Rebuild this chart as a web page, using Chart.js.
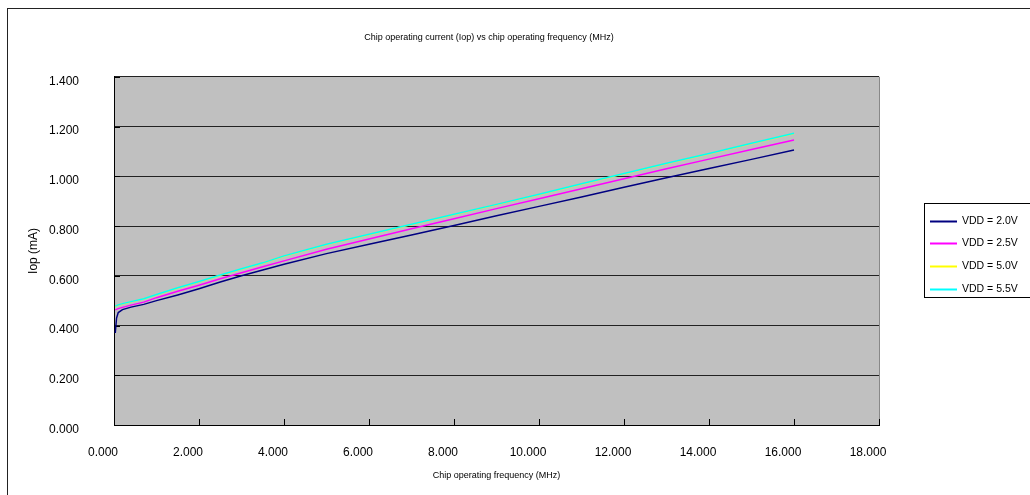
<!DOCTYPE html>
<html>
<head>
<meta charset="utf-8">
<title>Chip operating current vs frequency</title>
<script src="https://cdn.jsdelivr.net/npm/chart.js@4.4.0/dist/chart.umd.min.js"></script>
<style>
  html, body { margin: 0; padding: 0; background: #fff; overflow: hidden; }
  #wrap { position: relative; width: 1030px; height: 495px; }
  #frame { position: absolute; left: 7px; top: 8px; width: 1100px; height: 600px; border: 1px solid #222; box-sizing: border-box; }
  #chart { position: absolute; left: 0; top: 0; }
</style>
</head>
<body>
<div id="wrap">
  <div id="frame"></div>
  <canvas id="chart" width="1030" height="495"></canvas>
</div>
<script>
// operating frequency (MHz) of each measurement
const freqMHz = [0.03, 0.06, 0.1, 0.2, 0.4, 0.7, 1.0, 1.5, 2.0, 2.5, 3.0, 3.5, 4.0,
                 5.0, 6.0, 7.0, 8.0, 9.0, 10.0, 11.0, 12.0, 13.0, 14.0, 15.0, 16.0];

// Iop (mA) per supply voltage
const iopVdd20 = [0.370, 0.430, 0.452, 0.464, 0.474, 0.485, 0.500, 0.523, 0.548, 0.575, 0.600, 0.623, 0.646,
                  0.689, 0.727, 0.764, 0.802, 0.841, 0.879, 0.917, 0.956, 0.994, 1.031, 1.068, 1.106];
const iopVdd25 = [0.463, 0.465, 0.468, 0.473, 0.482, 0.494, 0.512, 0.538, 0.562, 0.588, 0.612, 0.636, 0.660,
                  0.707, 0.748, 0.789, 0.829, 0.870, 0.910, 0.950, 0.990, 1.030, 1.069, 1.108, 1.146];
const iopVdd50 = [0.477, 0.479, 0.482, 0.487, 0.495, 0.507, 0.524, 0.551, 0.576, 0.602, 0.627, 0.651, 0.679,
                  0.726, 0.766, 0.806, 0.846, 0.886, 0.927, 0.969, 1.010, 1.051, 1.091, 1.132, 1.172];
const iopVdd55 = [0.478, 0.480, 0.483, 0.488, 0.496, 0.508, 0.525, 0.552, 0.577, 0.603, 0.628, 0.652, 0.680,
                  0.727, 0.767, 0.807, 0.847, 0.887, 0.928, 0.970, 1.011, 1.052, 1.092, 1.133, 1.173];

const seriesLabels = ["VDD = 2.0V", "VDD = 2.5V", "VDD = 5.0V", "VDD = 5.5V"];
const seriesColors = ["#000080", "#ff00ff", "#ffff00", "#00ffff"];

const FONT = '"Liberation Sans", Arial, sans-serif';

function toPoints(values) {
    return freqMHz.map((f, i) => ({ x: f, y: values[i] }));
}

// grey plot area behind the grid
const plotBackground = {
    id: "plotBackground",
    beforeDraw(chart) {
        const { ctx, chartArea: a } = chart;
        ctx.save();
        ctx.fillStyle = "#c0c0c0";
        ctx.fillRect(a.left, a.top, a.right - a.left, a.bottom - a.top);
        ctx.restore();
    }
};

// right edge of the plot and the short inward tick marks on both axes
const plotFrame = {
    id: "plotFrame",
    beforeDatasetsDraw(chart) {
        const { ctx, chartArea: a, scales } = chart;
        ctx.save();
        ctx.lineWidth = 1;
        ctx.strokeStyle = "#888";
        ctx.beginPath();
        ctx.moveTo(Math.round(a.right) + 0.5, a.top);
        ctx.lineTo(Math.round(a.right) + 0.5, a.bottom);
        ctx.stroke();

        ctx.strokeStyle = "#000";
        ctx.beginPath();
        scales.x.ticks.forEach(t => {
            const px = Math.round(scales.x.getPixelForValue(t.value)) + 0.5;
            ctx.moveTo(px, a.bottom);
            ctx.lineTo(px, a.bottom - 6);
        });
        scales.y.ticks.forEach(t => {
            const py = Math.round(scales.y.getPixelForValue(t.value)) + 0.5;
            ctx.moveTo(a.left, py);
            ctx.lineTo(a.left + 6, py);
        });
        ctx.stroke();
        ctx.restore();
    }
};

// boxed legend on the right
const legendBox = {
    id: "legendBox",
    afterDraw(chart, args, opts) {
        const ctx = chart.ctx;
        ctx.save();
        ctx.strokeStyle = "#000";
        ctx.lineWidth = 1;
        ctx.strokeRect(opts.left + 0.5, opts.top + 0.5, opts.width, opts.height);
        ctx.font = "10.5px " + FONT;
        ctx.textBaseline = "middle";
        ctx.textAlign = "left";
        chart.data.datasets.forEach((ds, i) => {
            const y = Math.round(opts.top + opts.firstRow + i * opts.rowGap) + 0.5;
            ctx.strokeStyle = ds.borderColor;
            ctx.lineWidth = 2;
            ctx.beginPath();
            ctx.moveTo(opts.left + 6, y);
            ctx.lineTo(opts.left + 33, y);
            ctx.stroke();
            ctx.fillStyle = "#000";
            ctx.fillText(ds.label, opts.left + 38, y);
        });
        ctx.restore();
    }
};

const seriesValues = [iopVdd20, iopVdd25, iopVdd50, iopVdd55];

new Chart(document.getElementById("chart"), {
    type: "line",
    data: {
        datasets: seriesValues.map((vals, i) => ({
            label: seriesLabels[i],
            data: toPoints(vals),
            borderColor: seriesColors[i],
            backgroundColor: seriesColors[i],
            borderWidth: 1.5,
            pointRadius: 0,
            tension: 0,
            fill: false,
            order: 3 - i
        }))
    },
    options: {
        responsive: false,
        animation: false,
        events: [],
        layout: { padding: { left: 0, right: 52, top: 0, bottom: 0 } },
        plugins: {
            legend: { display: false },
            tooltip: { enabled: false },
            title: {
                display: true,
                text: "Chip operating current (Iop) vs chip operating frequency (MHz)",
                color: "#000",
                font: { family: FONT, size: 9, weight: "normal" },
                padding: { top: 32, bottom: 34 }
            },
            legendBox: { left: 924, top: 203, width: 200, height: 94, firstRow: 17.5, rowGap: 22.9 }
        },
        scales: {
            x: {
                type: "linear",
                min: 0,
                max: 18,
                grid: { display: false },
                border: { display: true, color: "#000", width: 1 },
                ticks: {
                    stepSize: 2,
                    color: "#000",
                    font: { family: FONT, size: 12 },
                    padding: 12,
                    labelOffset: -11,
                    maxRotation: 0,
                    callback: v => Number(v).toFixed(3)
                },
                title: {
                    display: true,
                    text: "Chip operating frequency (MHz)",
                    color: "#000",
                    font: { family: FONT, size: 9 },
                    padding: { top: 0, bottom: 14 }
                },
                afterFit: s => { s.height = 70; }
            },
            y: {
                type: "linear",
                min: 0,
                max: 1.4,
                grid: { color: "#222", lineWidth: 1, drawTicks: false },
                border: { display: true, color: "#000", width: 1 },
                ticks: {
                    stepSize: 0.2,
                    color: "#000",
                    font: { family: FONT, size: 12 },
                    padding: 35,
                    labelOffset: 4.5,
                    callback: v => Number(v).toFixed(3)
                },
                title: {
                    display: true,
                    text: "Iop (mA)",
                    color: "#000",
                    font: { family: FONT, size: 12 },
                    padding: { top: 26, bottom: 0 }
                },
                afterFit: s => { s.width = 114; }
            },
            // empty right-hand axis that only reserves room for the legend
            yGap: {
                type: "linear",
                position: "right",
                display: true,
                grid: { display: false },
                border: { display: false },
                ticks: { display: false },
                afterFit: s => { s.width = 99; }
            }
        }
    },
    plugins: [plotBackground, plotFrame, legendBox]
});
</script>
</body>
</html>
